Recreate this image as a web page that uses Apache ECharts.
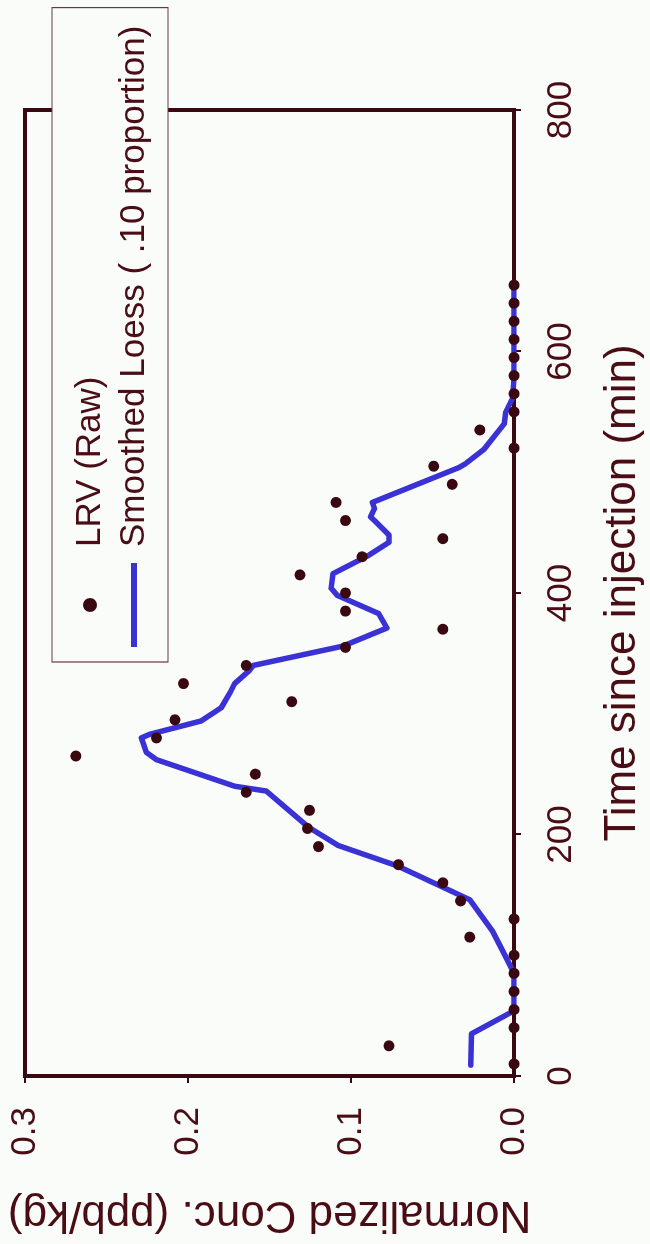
<!DOCTYPE html>
<html>
<head>
<meta charset="utf-8">
<script src="https://cdn.jsdelivr.net/npm/echarts@6/dist/echarts.min.js"></script>
<style>
  html, body { margin: 0; padding: 0; width: 650px; height: 1244px; overflow: hidden; background: #f9fcf8; }
  /* chart is laid out landscape, then turned a quarter turn counter-clockwise */
  #chart {
    position: absolute; left: 0; top: 0;
    width: 1244px; height: 650px;
    transform-origin: 0 0;
    transform: translateY(1244px) rotate(-90deg);
  }
</style>
</head>
<body>
<div id="chart"></div>
<script>
// Sampling times (min) of the raw LRV measurements
const rawTimes = [10, 25, 40, 55, 70, 85, 100, 115, 130, 145, 160, 175, 190, 205, 220,
  235, 250, 265, 280, 295, 310, 325, 340, 355, 370, 385, 400, 415, 430, 445, 460,
  475, 490, 505, 520, 535, 550, 565, 580, 595, 610, 625, 640, 655];
// Normalized concentration (ppb/kg) at each sampling time
const rawConc = [0, 0.0767, 0, 0, 0, 0, 0, 0.0272, 0, 0.0328, 0.0437, 0.0709, 0.120, 0.1267, 0.1255,
  0.1643, 0.1587, 0.2688, 0.2194, 0.208, 0.1364, 0.2028, 0.1643, 0.1034, 0.0437, 0.1034, 0.1034, 0.1313, 0.0932, 0.0437, 0.1034,
  0.1092, 0.0379, 0.0493, 0, 0.021, 0, 0, 0, 0, 0, 0, 0, 0];

// Loess-smoothed curve (.10 span)
const loessTimes = [9, 35, 54, 85, 97, 120, 146, 174, 191, 206, 236, 240, 262, 268, 280, 283,
  294, 305, 318, 325, 336, 340, 356, 371, 383, 398, 404, 416, 431, 442, 448, 460, 463, 470,
  475, 504, 507, 519, 533, 540, 550, 561, 577, 655];
const loessConc = [0.0265, 0.026, 0, 0, 0.0044, 0.0132, 0.0272, 0.0716, 0.108, 0.126, 0.152, 0.1714, 0.2194, 0.2255, 0.2286, 0.2235,
  0.192, 0.1796, 0.174, 0.1714, 0.1622, 0.160, 0.105, 0.078, 0.083, 0.1084, 0.1122, 0.111, 0.0894, 0.0767, 0.0767, 0.0856, 0.088, 0.0856,
  0.0869, 0.0336, 0.0298, 0.0184, 0.0102, 0.006, 0.005, 0.001, 0, 0];

const xTicks = [0, 200, 400, 600, 800];
const yTicks = [0.0, 0.1, 0.2, 0.3];

const seriesNames = ['LRV (Raw)', 'Smoothed Loess ( .10 proportion)'];

const ink = '#3a0810';
const textInk = '#4a0d15';
const lineBlue = '#3a32d4';
const paper = '#f9fcf8';
const font = '"Liberation Sans", Arial, sans-serif';

const chart = echarts.init(document.getElementById('chart'), null, { renderer: 'canvas' });

chart.setOption({
  animation: false,
  backgroundColor: paper,
  grid: {
    left: 165, right: 110, top: 25, bottom: 135,
    show: true, borderColor: ink, borderWidth: 4, backgroundColor: 'transparent'
  },
  xAxis: {
    type: 'value',
    min: xTicks[0], max: xTicks[xTicks.length - 1], interval: 200,
    name: 'Time since injection (min)',
    nameLocation: 'middle', nameGap: 87,
    nameTextStyle: { fontSize: 44, color: textInk, fontFamily: font },
    axisLine: { show: false },
    axisTick: { show: true, length: 7, lineStyle: { color: ink, width: 2 } },
    axisLabel: { fontSize: 35, color: textInk, fontFamily: font, margin: 30 },
    splitLine: { show: false }
  },
  yAxis: {
    type: 'value',
    min: yTicks[0], max: yTicks[yTicks.length - 1], interval: 0.1,
    name: 'Normalized Conc. (ppb/kg)',
    nameLocation: 'middle', nameGap: 116,
    nameTextStyle: { fontSize: 44, color: textInk, fontFamily: font },
    axisLine: { show: false },
    axisTick: { show: true, length: 7, lineStyle: { color: ink, width: 2 } },
    axisLabel: { fontSize: 35, color: textInk, fontFamily: font, margin: 31,
      formatter: v => v.toFixed(1) },
    splitLine: { show: false }
  },
  legend: {
    orient: 'vertical',
    left: 582, top: 52,
    padding: [19, 18, 15, 15],
    itemGap: 6,
    itemWidth: 84, itemHeight: 14,
    symbolKeepAspect: true,
    backgroundColor: paper,
    borderColor: '#6a3a3e', borderWidth: 1.2,
    textStyle: { fontSize: 35, lineHeight: 38, color: textInk, fontFamily: font, padding: [0, 0, 0, 11] },
    data: [
      { name: seriesNames[0], icon: 'circle', itemStyle: { color: ink, opacity: 1 } },
      { name: seriesNames[1], icon: 'path://M0,0L84,0L84,6L0,6Z', itemStyle: { color: lineBlue } }
    ]
  },
  series: [
    {
      name: seriesNames[1],
      type: 'line',
      data: loessTimes.map((t, i) => [t, loessConc[i]]),
      showSymbol: false,
      symbol: 'none',
      lineStyle: { color: lineBlue, width: 5.5, join: 'round', cap: 'round' },
      itemStyle: { color: lineBlue },
      z: 3
    },
    {
      name: seriesNames[0],
      type: 'scatter',
      data: rawTimes.map((t, i) => [t, rawConc[i]]),
      symbol: 'circle',
      symbolSize: 11,
      itemStyle: { color: ink, opacity: 1 },
      z: 4
    }
  ]
});
</script>
</body>
</html>
